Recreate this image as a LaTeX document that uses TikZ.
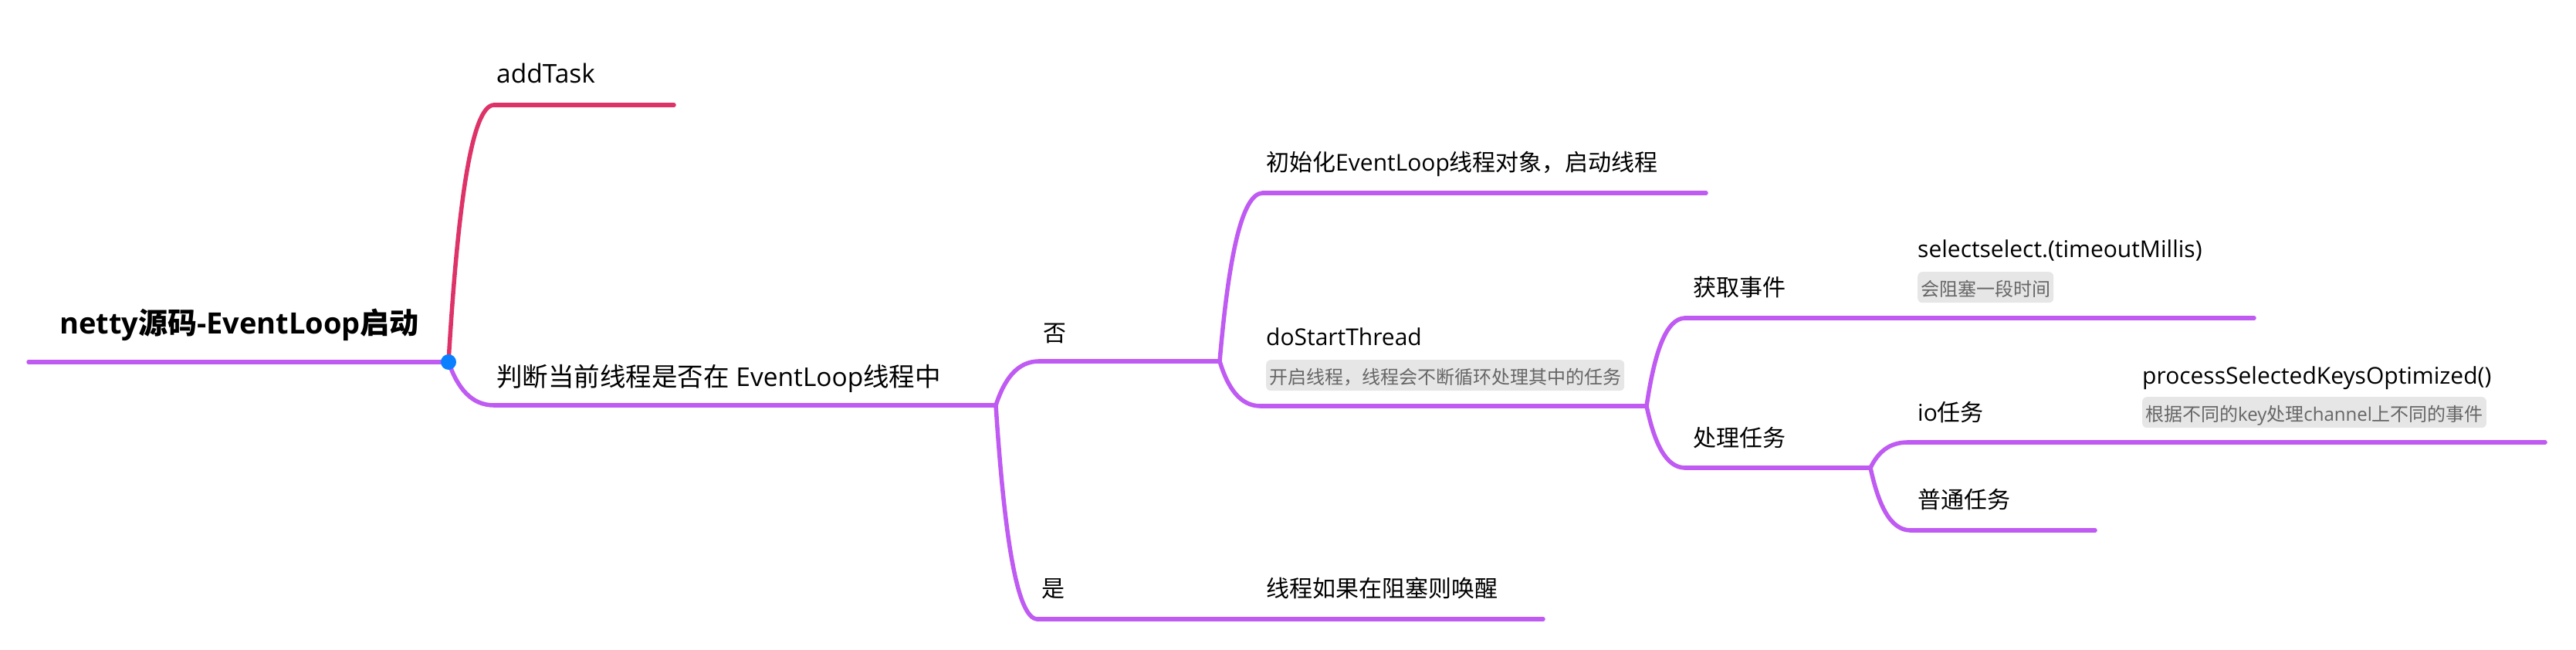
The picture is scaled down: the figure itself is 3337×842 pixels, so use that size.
\documentclass[tikz,border=0pt]{standalone}
\usepackage{fontspec}
\setmainfont{Open Sans}
\newfontfamily\cjkfont{Noto Sans CJK SC}
\usetikzlibrary{calc}

% CJK characters switch to the CJK family
\XeTeXinterchartokenstate=1
\newXeTeXintercharclass\cjkclass
\newcount\cjkcode
\cjkcode="4E00
\loop
  \XeTeXcharclass\cjkcode=\cjkclass
  \advance\cjkcode by 1
\ifnum\cjkcode<"A000\repeat
\XeTeXcharclass"FF0C=\cjkclass
\XeTeXinterchartoks 0 \cjkclass = {\cjkfont}
\XeTeXinterchartoks 4095 \cjkclass = {\cjkfont}
\XeTeXinterchartoks \cjkclass 0 = {\rmfamily}
\XeTeXinterchartoks \cjkclass 4095 = {\rmfamily}

\definecolor{branchpurple}{RGB}{191,90,242}
\definecolor{branchred}{RGB}{221,51,105}
\definecolor{dotblue}{RGB}{10,128,255}
\definecolor{notefill}{RGB}{230,230,230}
\definecolor{notetext}{RGB}{102,102,102}

\tikzset{
branch/.style={line width=5.5pt, line cap=round, draw=branchpurple},
topic/.style={anchor=base west, inner sep=0pt, font=\fontsize{30}{36}\selectfont},
maintopic/.style={topic, font=\fontsize{33.5}{40}\selectfont},
roottopic/.style={topic, font=\fontsize{38}{45}\selectfont\bfseries},
notebox/.style={anchor=north west, inner xsep=4pt, inner ysep=0pt, text height=31pt, text depth=9pt,
  fill=notefill, rounded corners=6pt, text=notetext, font=\fontsize{24}{28}\selectfont}}

\begin{document}
\begin{tikzpicture}[x=1pt, y=-1pt]

                \useasboundingbox (0,0) rectangle (3337,842);

                %branch lines, start and end
                \coordinate (root-s) at (37,469);      \coordinate (root-e) at (581,469);
                \coordinate (addtask-s) at (640,136);  \coordinate (addtask-e) at (873,136);
                \coordinate (judge-s) at (640,525);    \coordinate (judge-e) at (1290,525);
                \coordinate (no-s) at (1346,468);      \coordinate (no-e) at (1580,468);
                \coordinate (yes-s) at (1344,802);     \coordinate (yes-e) at (1580,802);
                \coordinate (init-s) at (1636,250);    \coordinate (init-e) at (2210,250);
                \coordinate (start-s) at (1633,526);   \coordinate (start-e) at (2133,526);
                \coordinate (wake-s) at (1633,802);    \coordinate (wake-e) at (1999,802);
                \coordinate (fetch-s) at (2183,412);   \coordinate (fetch-e) at (2423,412);
                \coordinate (handle-s) at (2183,606);  \coordinate (handle-e) at (2423,606);
                \coordinate (select-s) at (2471,412);  \coordinate (select-e) at (2920,412);
                \coordinate (io-s) at (2471,573);      \coordinate (io-e) at (2714,573);
                \coordinate (process-s) at (2763,573); \coordinate (process-e) at (3297,573);
                \coordinate (plain-s) at (2475,687);   \coordinate (plain-e) at (2714,687);

                \node[roottopic] (root) at (77,432) {netty源码-EventLoop启动};
                \node[maintopic] (addtask) at (643,108) {addTask};
                \node[maintopic] (judge) at (643,500) {判断当前线程是否在 EventLoop线程中};
                \node[topic] (no) at (1351,442) {否};
                \node[topic] (yes) at (1349,773) {是};
                \node[topic] (init) at (1640,222) {初始化EventLoop线程对象，启动线程};
                \node[topic] (start) at (1640,447) {doStartThread};
                \node[notebox] (startnote) at (1640,466) {开启线程，线程会不断循环处理其中的任务};
                \node[topic] (wake) at (1640,773) {线程如果在阻塞则唤醒};
                \node[topic] (fetch) at (2193,383) {获取事件};
                \node[topic] (handle) at (2193,578) {处理任务};
                \node[topic] (select) at (2484,333) {selectselect.(timeoutMillis)};
                \node[notebox] (selectnote) at (2484,352) {会阻塞一段时间};
                \node[topic] (io) at (2484,545) {io任务};
                \node[topic] (process) at (2775,497) {processSelectedKeysOptimized()};
                \node[notebox] (processnote) at (2775,514) {根据不同的key处理channel上不同的事件};
                \node[topic] (plain) at (2484,658) {普通任务};

                \foreach \n in {root,judge,no,yes,init,start,wake,fetch,handle,select,io,process,plain}
                    \draw[branch] (\n-s) -- (\n-e);
                \draw[branch, draw=branchred] (addtask-s) -- (addtask-e);

                %connectors: steep rise, rounded into the child line
                \foreach \a/\b in {root/judge, judge/no, judge/yes, no/init, no/start, yes/wake,
                    start/fetch, start/handle, fetch/select, handle/io, handle/plain, io/process}{
                    \draw[branch] let \p1=(\a-e), \p2=(\b-s) in
                        (\p1) .. controls ({\x1+0.2*(\x2-\x1)},{\y1+0.6*(\y2-\y1)}) and ({\x1+0.5*(\x2-\x1)},\y2) .. (\p2);
                }
                \draw[branch, draw=branchred] let \p1=(root-e), \p2=(addtask-s) in
                    (\p1) .. controls ({\x1+0.2*(\x2-\x1)},{\y1+0.6*(\y2-\y1)}) and ({\x1+0.5*(\x2-\x1)},\y2) .. (\p2);

                \fill[dotblue] (root-e) circle (10);

\end{tikzpicture}
\end{document}
